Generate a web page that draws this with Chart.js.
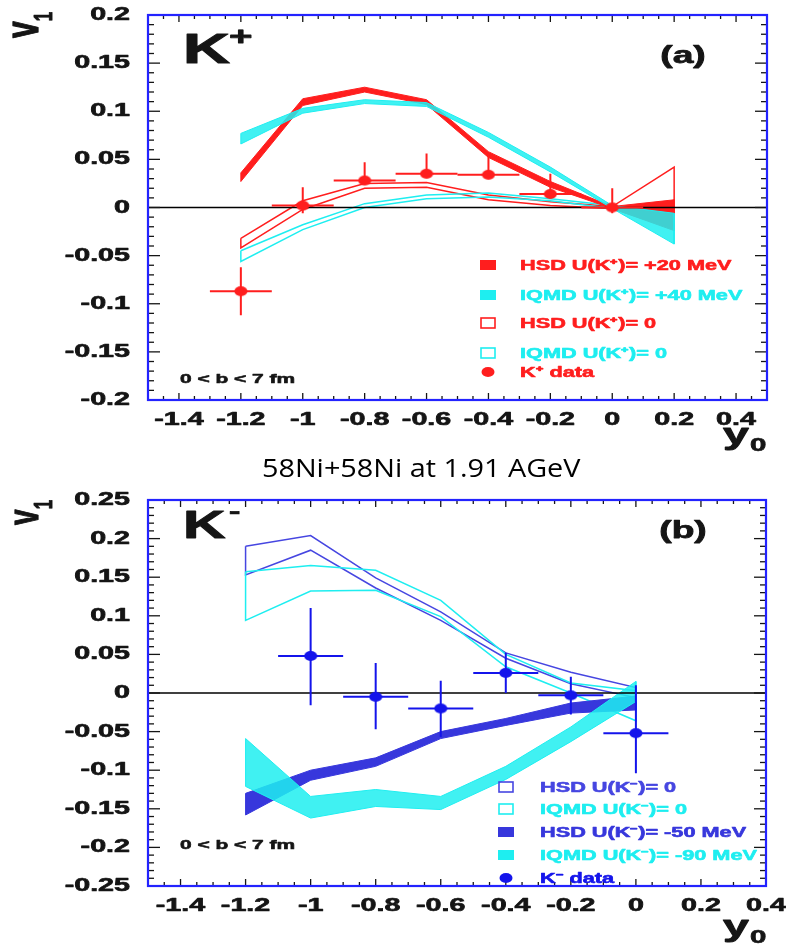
<!DOCTYPE html>
<html lang="en">
<head>
<meta charset="UTF-8">
<title>Kaon directed flow, Ni+Ni 1.91 AGeV</title>
<script src="https://cdn.jsdelivr.net/npm/chart.js"></script>
<style>
  body { margin: 0; background: #fff; }
  #wrap { position: relative; width: 786px; height: 944px; overflow: hidden; }
  canvas { position: absolute; left: 0; }
  #chartA { top: 0; }
  #chartB { top: 470px; }
  #title {
    position: absolute; top: 450px; left: 262px;
    font: 25px "Open Sans", sans-serif; color: #000;
    transform-origin: left top; white-space: nowrap;
  }
</style>
</head>
<body>
<div id="wrap">
  <canvas id="chartA" width="786" height="460"></canvas>
  <div id="title">58Ni+58Ni at 1.91 AGeV</div>
  <canvas id="chartB" width="786" height="474"></canvas>
</div>

<script>
// ---------- panel (a): K+ ----------
const rapA = [-1.2, -1.0, -0.8, -0.6, -0.4, -0.2, 0.0, 0.2];
const hsdKp20Hi  = [0.036, 0.113, 0.125, 0.112, 0.058, 0.027, 0.001, 0.008];
const hsdKp20Lo  = [0.027, 0.106, 0.120, 0.107, 0.052, 0.021, -0.001, -0.024];
const iqmdKp40Hi = [0.077, 0.103, 0.112, 0.109, 0.078, 0.042, 0.002, -0.006];
const iqmdKp40Lo = [0.066, 0.098, 0.108, 0.105, 0.073, 0.037, -0.001, -0.038];
const hsdKp0Hi   = [-0.032, 0.007, 0.025, 0.026, 0.013, 0.006, 0.001, 0.042];
const hsdKp0Lo   = [-0.042, -0.002, 0.020, 0.021, 0.008, 0.002, -0.001, -0.022];
const iqmdKp0Hi  = [-0.045, -0.018, 0.004, 0.013, 0.015, 0.009, 0.002, -0.012];
const iqmdKp0Lo  = [-0.056, -0.023, 0.000, 0.009, 0.011, 0.007, -0.001, -0.016];

const kpX     = [-1.2, -1.0, -0.8, -0.6, -0.4, -0.2, 0.0];
const kpV1    = [-0.087, 0.002, 0.028, 0.035, 0.034, 0.014, 0.000];
const kpErrHi = [0.025, 0.019, 0.019, 0.021, 0.021, 0.021, 0.020];
const kpErrLo = [0.025, 0.008, 0.000, 0.000, 0.000, 0.000, 0.006];
const kpErrX  = [0.1, 0.1, 0.1, 0.1, 0.1, 0.1, 0.1];

const xTicksA = [-1.4, -1.2, -1.0, -0.8, -0.6, -0.4, -0.2, 0, 0.2, 0.4];
const yTicksA = [-0.2, -0.15, -0.1, -0.05, 0, 0.05, 0.1, 0.15, 0.2];
const legendA = ['HSD U(K⁺)= +20 MeV', 'IQMD U(K⁺)= +40 MeV', 'HSD U(K⁺)= 0', 'IQMD U(K⁺)= 0', 'K⁺ data'];

// ---------- panel (b): K- ----------
const rapB = [-1.2, -1.0, -0.8, -0.6, -0.4, -0.2, 0.0];
const hsdKm0Hi   = [0.190, 0.204, 0.149, 0.105, 0.052, 0.027, 0.007];
const hsdKm0Lo   = [0.153, 0.185, 0.136, 0.094, 0.045, 0.012, -0.006];
const iqmdKm0Hi  = [0.157, 0.165, 0.159, 0.120, 0.050, 0.013, 0.003];
const iqmdKm0Lo  = [0.094, 0.132, 0.133, 0.099, 0.034, 0.000, -0.036];
const hsdKm50Hi  = [-0.130, -0.100, -0.084, -0.050, -0.033, -0.013, -0.004];
const hsdKm50Lo  = [-0.158, -0.113, -0.095, -0.059, -0.042, -0.026, -0.022];
const iqmdKm90Hi = [-0.059, -0.134, -0.125, -0.134, -0.095, -0.044, 0.015];
const iqmdKm90Lo = [-0.121, -0.162, -0.147, -0.151, -0.112, -0.063, -0.011];

const kmX     = [-1.0, -0.8, -0.6, -0.4, -0.2, 0.0];
const kmV1    = [0.048, -0.005, -0.020, 0.026, -0.003, -0.052];
const kmErrHi = [0.062, 0.044, 0.036, 0.026, 0.024, 0.062];
const kmErrLo = [0.064, 0.042, 0.037, 0.026, 0.025, 0.052];
const kmErrX  = [0.1, 0.1, 0.1, 0.1, 0.1, 0.1];

const xTicksB = [-1.4, -1.2, -1.0, -0.8, -0.6, -0.4, -0.2, 0, 0.2, 0.4];
const yTicksB = [-0.25, -0.2, -0.15, -0.1, -0.05, 0, 0.05, 0.1, 0.15, 0.2, 0.25];
const legendB = ['HSD U(K⁻)= 0', 'IQMD U(K⁻)= 0', 'HSD U(K⁻)= -50 MeV', 'IQMD U(K⁻)= -90 MeV', 'K⁻ data'];

// colours
const RED = 'rgb(255,30,30)';
const CYAN = 'rgb(30,238,240)';
const CYAN_FILL = 'rgba(30,238,240,0.85)';
const BLUE_LINE = 'rgb(70,70,225)';
const BLUE_FILL = 'rgb(55,55,220)';
const BLUE_DATA = 'rgb(20,20,235)';
const FRAME = 'rgb(35,35,255)';
const INK = '#151515';

const SX = 1.55;   // the ROOT lettering is drawn wide
const FONT = '"Liberation Sans", Arial, sans-serif';

function rootText(ctx, str, x, y, size, o = {}) {
  ctx.save();
  ctx.translate(x, y);
  ctx.scale(SX, 1);
  if (o.rotate) ctx.rotate(o.rotate);
  ctx.font = 'bold ' + size + 'px ' + FONT;
  ctx.fillStyle = o.color || INK;
  ctx.strokeStyle = o.color || INK;
  ctx.lineWidth = 0.35 + size / 60;
  ctx.lineJoin = 'round';
  ctx.textAlign = o.align || 'left';
  ctx.textBaseline = o.baseline || 'alphabetic';
  ctx.fillText(str, 0, 0);
  ctx.strokeText(str, 0, 0);   // heavier strokes
  ctx.restore();
}

// filled ellipse used as point marker
function makeDot(color) {
  const c = document.createElement('canvas');
  c.width = 14; c.height = 12;
  const g = c.getContext('2d');
  g.fillStyle = color;
  g.beginPath(); g.ellipse(7, 6, 6.5, 5, 0, 0, Math.PI * 2); g.fill();
  return c;
}

// closed band outline: upper edge left->right, lower edge right->left
function bandShape(xs, hi, lo) {
  const pts = xs.map((x, i) => ({x, y: hi[i]}));
  for (let i = xs.length - 1; i >= 0; i--) pts.push({x: xs[i], y: lo[i]});
  pts.push({x: xs[0], y: hi[0]});
  return pts;
}

function band(xs, hi, lo, color, fillColor) {
  return {
    data: bandShape(xs, hi, lo),
    showLine: true,
    borderColor: color,
    borderWidth: fillColor ? 1 : 1.5,
    backgroundColor: fillColor || 'transparent',
    fill: fillColor ? 'shape' : false,
    pointRadius: 0,
    tension: 0
  };
}

function points(xs, vs, color) {
  return {
    data: xs.map((x, i) => ({x, y: vs[i]})),
    showLine: false,
    pointStyle: makeDot(color),
    pointRadius: 6,
    backgroundColor: color,
    borderColor: color
  };
}

function rootPlugin(cfg) {
  return {
    id: 'rootFrame',
    beforeDatasetDraw(chart, args) {
      if (args.index !== 0) return;
      const {ctx, chartArea: a, scales: {x, y}} = chart;
      ctx.save();
      // v1 = 0 reference line
      ctx.strokeStyle = '#000';
      ctx.lineWidth = 1.5;
      const y0 = y.getPixelForValue(0);
      ctx.beginPath(); ctx.moveTo(a.left, y0); ctx.lineTo(a.right, y0); ctx.stroke();
      // error bars of the measured points
      ctx.strokeStyle = cfg.dataColor;
      ctx.lineWidth = 2;
      cfg.ex.forEach((xv, i) => {
        const v = cfg.ev[i];
        const px = x.getPixelForValue(xv), py = y.getPixelForValue(v);
        ctx.beginPath();
        ctx.moveTo(x.getPixelForValue(xv - cfg.errX[i]), py);
        ctx.lineTo(x.getPixelForValue(xv + cfg.errX[i]), py);
        ctx.moveTo(px, y.getPixelForValue(v + cfg.errHi[i]));
        ctx.lineTo(px, y.getPixelForValue(v - cfg.errLo[i]));
        ctx.stroke();
      });
      ctx.restore();
    },
    afterDatasetsDraw(chart) {
      const {ctx, chartArea: a, scales: {x, y}} = chart;
      ctx.save();
      // inward ticks on all four sides
      ctx.strokeStyle = INK;
      ctx.lineWidth = 1.3;
      const tick = (x1, y1, x2, y2) => { ctx.beginPath(); ctx.moveTo(x1, y1); ctx.lineTo(x2, y2); ctx.stroke(); };
      let n = Math.round((x.max - x.min) / 0.05);
      for (let i = 0; i <= n; i++) {
        const v = x.min + i * 0.05;
        const major = Math.abs(v / 0.2 - Math.round(v / 0.2)) < 1e-6;
        const px = x.getPixelForValue(v), L = major ? 7 : 4;
        tick(px, a.bottom, px, a.bottom - L);
        tick(px, a.top, px, a.top + L);
      }
      n = Math.round((y.max - y.min) / 0.01);
      for (let i = 0; i <= n; i++) {
        const v = y.min + i * 0.01;
        const major = Math.abs(v / 0.05 - Math.round(v / 0.05)) < 1e-6;
        const py = y.getPixelForValue(v), L = major ? 12 : 6;
        tick(a.left, py, a.left + L, py);
        tick(a.right, py, a.right - L, py);
      }
      // frame
      ctx.strokeStyle = FRAME;
      ctx.lineWidth = 2.2;
      ctx.strokeRect(a.left, a.top, a.right - a.left, a.bottom - a.top);

      // tick labels
      x.ticks.forEach(t => rootText(ctx, String(t.value), x.getPixelForValue(t.value), a.bottom + 25, 18.5, {align: 'center'}));
      y.ticks.forEach(t => rootText(ctx, String(t.value), a.left - 18, y.getPixelForValue(t.value), 18.5, {align: 'right', baseline: 'middle'}));

      // axis titles
      rootText(ctx, 'v', 38, cfg.v1y, cfg.v1size, {rotate: -Math.PI / 2});
      rootText(ctx, '1', 52, cfg.v1y - cfg.v1size * 0.56, 17, {rotate: -Math.PI / 2});
      rootText(ctx, 'y', 723, cfg.y0base, 30);
      rootText(ctx, '0', 750, cfg.y0base + 7, 19);

      // particle tag, panel letter, centrality
      rootText(ctx, 'K', 183, cfg.kBase, cfg.kSize);
      rootText(ctx, cfg.kSign, 229, cfg.signBase, cfg.signSize);
      rootText(ctx, cfg.letter, 683, cfg.kBase, 24, {align: 'center'});
      rootText(ctx, '0 < b < 7 fm', 180, cfg.bBase, 13.5);

      // legend
      cfg.legend.forEach((label, i) => {
        const cy = cfg.legendRows[i], cx = cfg.legendX, st = cfg.legendStyle[i];
        ctx.fillStyle = st.color;
        ctx.strokeStyle = st.color;
        ctx.lineWidth = 1.6;
        if (st.kind === 'fill') ctx.fillRect(cx - 8, cy - 5, 16, 10);
        else if (st.kind === 'box') ctx.strokeRect(cx - 7, cy - 5, 14, 10);
        else { ctx.beginPath(); ctx.ellipse(cx, cy, 6.5, 5, 0, 0, Math.PI * 2); ctx.fill(); }
        rootText(ctx, label, cfg.legendTextX, cy + 5, 14, {color: st.color});
      });
      ctx.restore();
    }
  };
}

function makeChart(id, c) {
  return new Chart(document.getElementById(id), {
    type: 'scatter',
    data: {datasets: c.datasets},
    options: {
      responsive: false,
      animation: false,
      layout: {padding: c.padding},
      plugins: {legend: {display: false}, tooltip: {enabled: false}},
      scales: {
        x: {
          type: 'linear', min: c.xMin, max: c.xMax,
          grid: {display: false}, border: {display: false}, ticks: {display: false},
          afterBuildTicks: s => { s.ticks = c.xTicks.map(v => ({value: v})); },
          afterFit: s => { s.height = c.xAxisHeight; }
        },
        y: {
          type: 'linear', min: c.yMin, max: c.yMax,
          grid: {display: false}, border: {display: false}, ticks: {display: false},
          afterBuildTicks: s => { s.ticks = c.yTicks.map(v => ({value: v})); },
          afterFit: s => { s.width = 148; }
        }
      }
    },
    plugins: [rootPlugin(c.root)]
  });
}

makeChart('chartA', {
  xMin: -1.5, xMax: 0.5, yMin: -0.2, yMax: 0.2,
  xTicks: xTicksA, yTicks: yTicksA,
  padding: {left: 0, right: 19, top: 15, bottom: 0},
  xAxisHeight: 60,
  datasets: [
    points(kpX, kpV1, RED),
    band(rapA, iqmdKp40Hi, iqmdKp40Lo, CYAN, CYAN_FILL),
    band(rapA, hsdKp20Hi, hsdKp20Lo, RED, RED),
    band(rapA, iqmdKp0Hi, iqmdKp0Lo, CYAN),
    band(rapA, hsdKp0Hi, hsdKp0Lo, RED)
  ],
  root: {
    dataColor: RED, ex: kpX, ev: kpV1, errHi: kpErrHi, errLo: kpErrLo, errX: kpErrX,
    v1y: 38, v1size: 30, y0base: 444,
    kBase: 63, kSize: 42, kSign: '+', signBase: 45, signSize: 26,
    letter: '(a)', bBase: 383,
    legend: legendA,
    legendRows: [265, 295, 323, 353, 372], legendX: 488, legendTextX: 520,
    legendStyle: [
      {kind: 'fill', color: RED}, {kind: 'fill', color: CYAN},
      {kind: 'box', color: RED}, {kind: 'box', color: CYAN}, {kind: 'dot', color: RED}
    ]
  }
});

makeChart('chartB', {
  xMin: -1.5, xMax: 0.4, yMin: -0.25, yMax: 0.25,
  xTicks: xTicksB, yTicks: yTicksB,
  padding: {left: 0, right: 20, top: 30, bottom: 0},
  xAxisHeight: 58,
  datasets: [
    points(kmX, kmV1, BLUE_DATA),
    band(rapB, iqmdKm90Hi, iqmdKm90Lo, CYAN, CYAN_FILL),
    band(rapB, hsdKm50Hi, hsdKm50Lo, BLUE_FILL, BLUE_FILL),
    band(rapB, iqmdKm0Hi, iqmdKm0Lo, CYAN),
    band(rapB, hsdKm0Hi, hsdKm0Lo, BLUE_LINE)
  ],
  root: {
    dataColor: BLUE_DATA, ex: kmX, ev: kmV1, errHi: kmErrHi, errLo: kmErrLo, errX: kmErrX,
    v1y: 55, v1size: 28, y0base: 466,
    kBase: 68, kSize: 38, kSign: '-', signBase: 48, signSize: 22,
    letter: '(b)', bBase: 379,
    legend: legendB,
    legendRows: [317, 339, 362, 385, 408], legendX: 506, legendTextX: 540,
    legendStyle: [
      {kind: 'box', color: BLUE_LINE}, {kind: 'box', color: CYAN},
      {kind: 'fill', color: BLUE_FILL}, {kind: 'fill', color: CYAN}, {kind: 'dot', color: BLUE_DATA}
    ]
  }
});

// stretch the caption to the width of the panels' lettering
const title = document.getElementById('title');
title.style.transform = 'scaleX(' + (318 / title.offsetWidth).toFixed(3) + ')';
</script>
</body>
</html>
